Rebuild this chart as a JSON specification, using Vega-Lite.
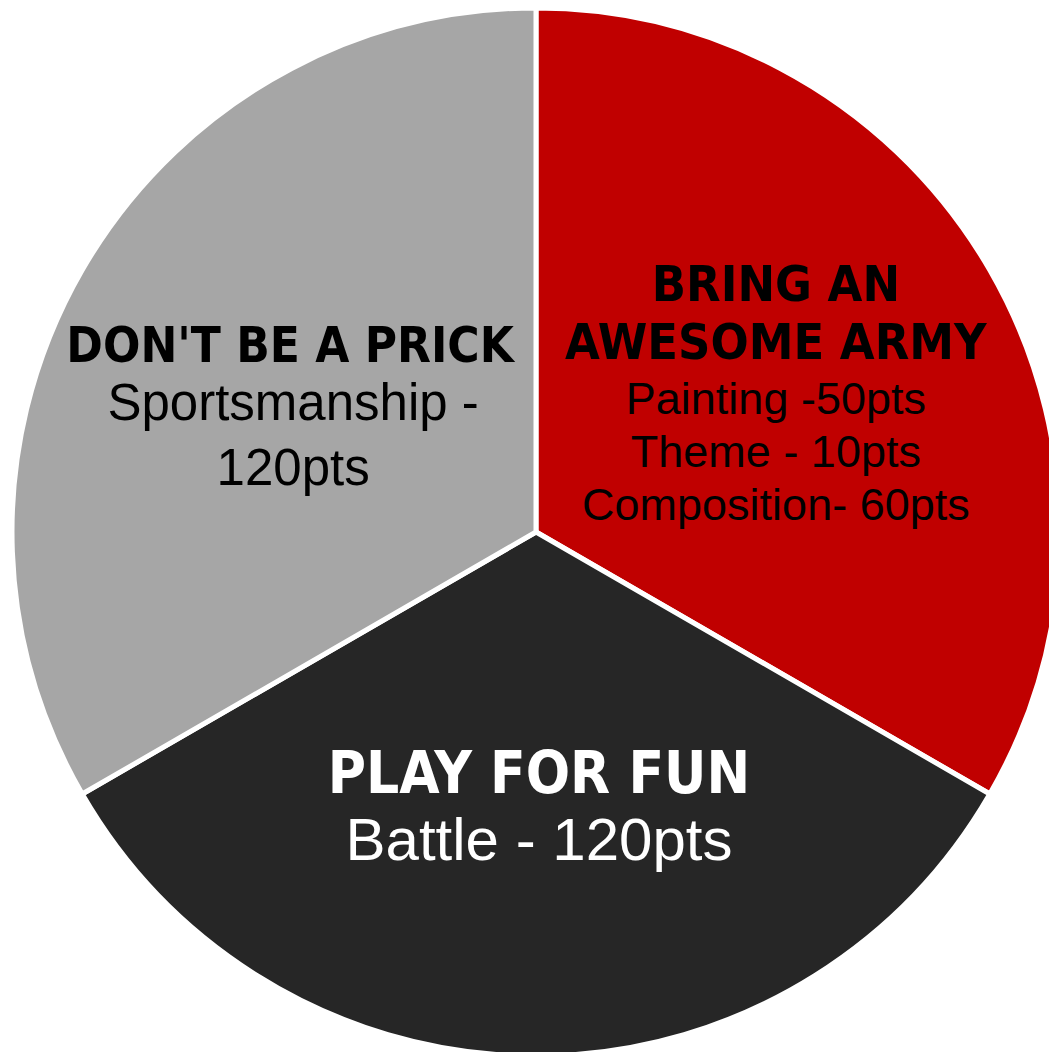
{
  "$schema": "https://vega.github.io/schema/vega-lite/v6.json",
  "width": 1072,
  "height": 1064,
  "autosize": {"type": "none"},
  "padding": {"left": 0, "top": 0, "right": -23, "bottom": -12},
  "background": "white",
  "config": {"view": {"stroke": null}},
  "data": {
    "values": [
      {"slice": "army", "points": 120, "header": ["BRING AN", "AWESOME ARMY"], "detail": ["Painting -50pts", "Theme - 10pts", "Composition- 60pts"]},
      {"slice": "fun", "points": 120, "header": ["PLAY FOR FUN"], "detail": ["Battle - 120pts"]},
      {"slice": "sport", "points": 120, "header": ["DON'T BE A PRICK"], "detail": ["Sportsmanship -", "120pts"]}
    ]
  },
  "encoding": {
    "theta": {"field": "points", "type": "quantitative", "stack": true},
    "order": {"field": "slice", "type": "nominal", "sort": "ascending"}
  },
  "layer": [
    {
      "mark": {"type": "arc", "outerRadius": 524, "stroke": "white", "strokeWidth": 5},
      "encoding": {
        "color": {"field": "slice", "type": "nominal", "legend": null,
          "scale": {"domain": ["army", "fun", "sport"], "range": ["#C00000", "#262626", "#A6A6A6"]}}
      }
    },
    {
      "mark": {"type": "text", "radius": 277, "font": "DejaVu Sans Condensed, DejaVu Sans", "fontWeight": "bold", "fontSize": 50, "lineHeight": 58, "dy": -93, "align": "center", "baseline": "alphabetic", "color": "#000000"},
      "encoding": {"text": {"condition": {"test": "datum.slice === 'army'", "field": "header"}, "value": ""}}
    },
    {
      "mark": {"type": "text", "radius": 277, "font": "Liberation Sans, Arial", "fontSize": 45, "lineHeight": 53, "dy": 20, "align": "center", "baseline": "alphabetic", "color": "#000000"},
      "encoding": {"text": {"condition": {"test": "datum.slice === 'army'", "field": "detail"}, "value": ""}}
    },
    {
      "mark": {"type": "text", "radius": 277, "font": "DejaVu Sans Condensed, DejaVu Sans", "fontWeight": "bold", "fontSize": 49, "lineHeight": 58, "dy": -32, "dx": -6, "align": "center", "baseline": "alphabetic", "color": "#000000"},
      "encoding": {"text": {"condition": {"test": "datum.slice === 'sport'", "field": "header"}, "value": ""}}
    },
    {
      "mark": {"type": "text", "radius": 277, "font": "Liberation Sans, Arial", "fontSize": 51, "lineHeight": 65, "dy": 26, "dx": -3, "align": "center", "baseline": "alphabetic", "color": "#000000"},
      "encoding": {"text": {"condition": {"test": "datum.slice === 'sport'", "field": "detail"}, "value": ""}}
    },
    {
      "mark": {"type": "text", "radius": 277, "font": "DejaVu Sans Condensed, DejaVu Sans", "fontWeight": "bold", "fontSize": 58, "lineHeight": 60, "dy": -16, "dx": 3, "align": "center", "baseline": "alphabetic", "color": "#FFFFFF"},
      "encoding": {"text": {"condition": {"test": "datum.slice === 'fun'", "field": "header"}, "value": ""}}
    },
    {
      "mark": {"type": "text", "radius": 277, "font": "Liberation Sans, Arial", "fontSize": 60, "lineHeight": 65, "dy": 51, "dx": 3, "align": "center", "baseline": "alphabetic", "color": "#FFFFFF"},
      "encoding": {"text": {"condition": {"test": "datum.slice === 'fun'", "field": "detail"}, "value": ""}}
    }
  ]
}
